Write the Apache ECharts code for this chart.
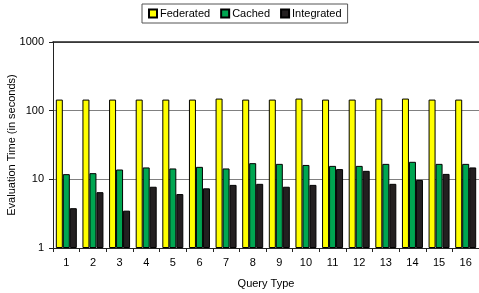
<!DOCTYPE html>
<html>
<head>
<meta charset="utf-8">
<script src="https://cdn.jsdelivr.net/npm/echarts@6/dist/echarts.min.js"></script>
<style>
    html, body { margin: 0; padding: 0; background: #fff; }
    #chart { width: 479px; height: 293px; }
</style>
</head>
<body>
<div id="chart"></div>
<script>
// query types on the x axis
const queryTypes = ['1', '2', '3', '4', '5', '6', '7', '8', '9', '10', '11', '12', '13', '14', '15', '16']
// evaluation time in seconds (log scale)
const federated = [145, 145, 145, 145, 145, 145, 150, 145, 145, 150, 145, 145, 150, 150, 145, 145]
const cached = [11.9, 12.3, 13.9, 14.9, 14.4, 15.2, 14.4, 17.2, 16.8, 16.2, 15.7, 15.7, 16.8, 18, 16.8, 16.8]
const integrated = [3.8, 6.5, 3.5, 7.8, 6.1, 7.4, 8.3, 8.6, 7.8, 8.3, 14.1, 13.3, 8.6, 9.8, 12, 14.9]

const font = 'Liberation Sans, Arial, sans-serif'
const chart = echarts.init(document.getElementById('chart'))

function barSeries(name, data, color) {
    return {
        name: name,
        type: 'bar',
        data: data,
        barWidth: 7,
        barGap: '0%',
        itemStyle: { color: color, borderColor: '#000', borderWidth: 1 }
    }
}

chart.setOption({
    animation: false,
    textStyle: { fontFamily: font },
    legend: {
        left: 142,
        top: 4,
        itemWidth: 8,
        itemHeight: 8,
        itemGap: 10,
        icon: 'rect',
        padding: [4, 6, 4, 6],
        borderColor: '#555',
        borderWidth: 1,
        textStyle: { fontSize: 11, color: '#000', fontFamily: font, padding: [0, 0, 0, -2] },
        data: ['Federated', 'Cached', 'Integrated']
    },
    grid: {
        left: 53,
        right: 0,
        top: 42,
        bottom: 45,
        containLabel: false,
        outerBoundsMode: 'none'
    },
    xAxis: [
        {
            type: 'category',
            data: queryTypes,
            name: 'Query Type',
            nameLocation: 'middle',
            nameGap: 30,
            nameMoveOverlap: false,
            nameTextStyle: { fontSize: 11, color: '#000' },
            axisLine: { lineStyle: { color: '#222', width: 1 } },
            axisTick: { show: true, length: 4, lineStyle: { color: '#222' } },
            axisLabel: { fontSize: 11, color: '#000', margin: 9 }
        },
        {
            type: 'category',
            data: queryTypes,
            position: 'top',
            axisLine: { lineStyle: { color: '#222', width: 1.5 } },
            axisTick: { show: false },
            axisLabel: { show: false }
        }
    ],
    yAxis: {
        type: 'log',
        logBase: 10,
        min: 1,
        max: 1000,
        name: 'Evaluation Time (in seconds)',
        nameLocation: 'middle',
        nameGap: 36,
        nameMoveOverlap: false,
        nameTextStyle: { fontSize: 11, color: '#000' },
        axisLine: { show: true, lineStyle: { color: '#222', width: 1 } },
        axisTick: { show: true, length: 4, lineStyle: { color: '#222' } },
        axisLabel: { fontSize: 11, color: '#000', margin: 9, formatter: function (v) { return String(Math.round(v)) } },
        splitLine: { show: true, lineStyle: { color: '#808080', width: 1.2 } },
        minorTick: { show: false }
    },
    series: [
        barSeries('Federated', federated, '#ffff00'),
        barSeries('Cached', cached, '#00a651'),
        barSeries('Integrated', integrated, '#231f20')
    ]
})
</script>
</body>
</html>
